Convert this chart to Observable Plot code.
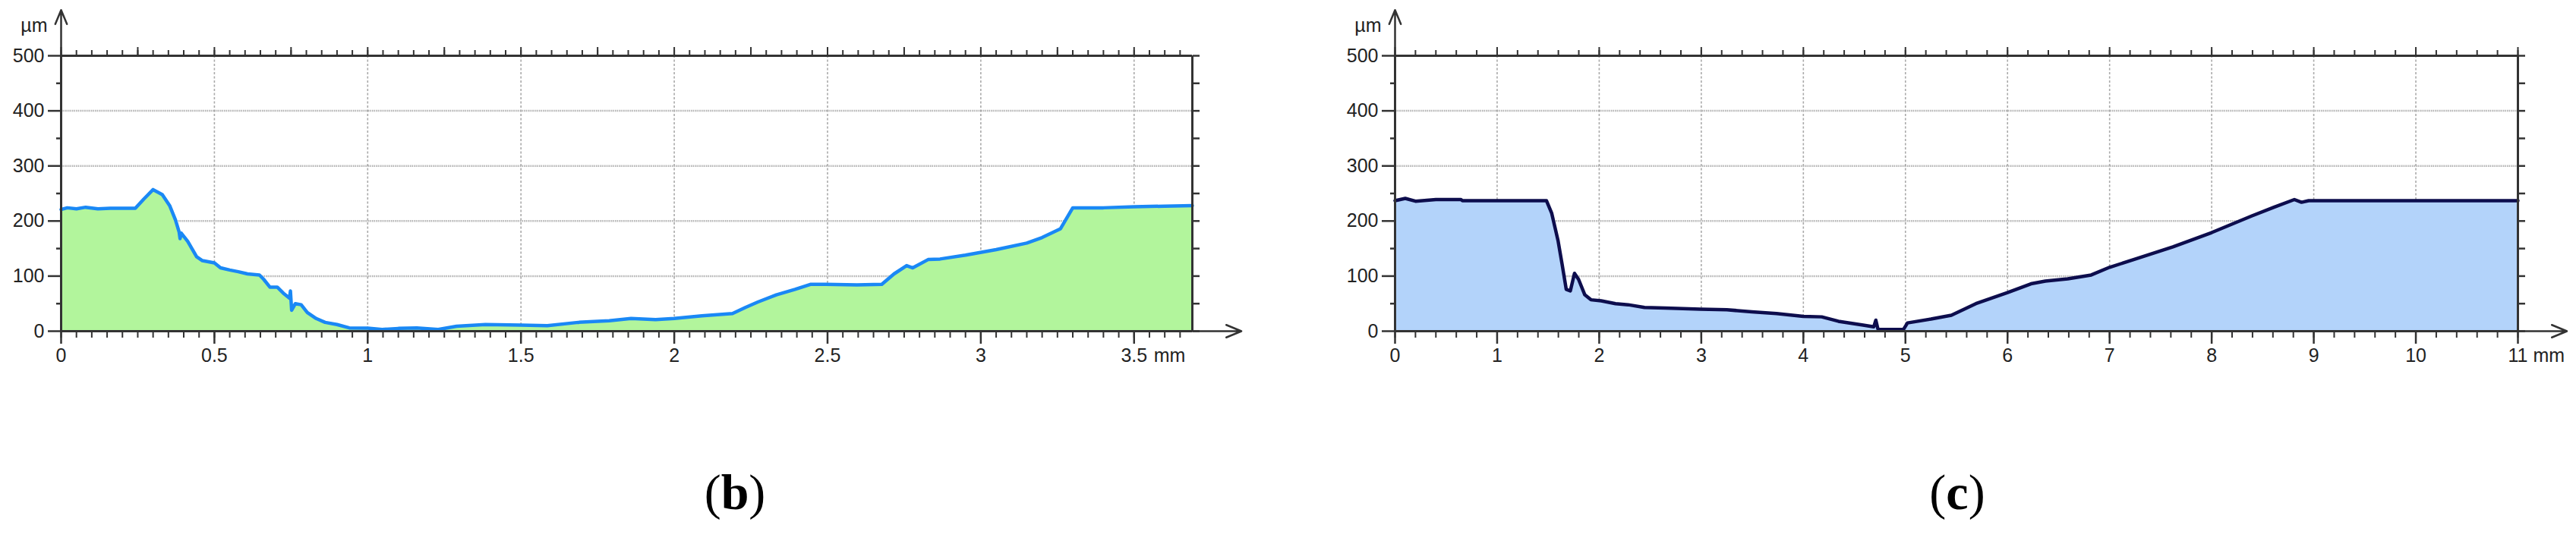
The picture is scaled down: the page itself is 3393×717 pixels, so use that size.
<!DOCTYPE html>
<html>
<head>
<meta charset="utf-8">
<script src="https://cdn.jsdelivr.net/npm/d3@7"></script>
<script src="https://cdn.jsdelivr.net/npm/@observablehq/plot@0.6"></script>
<style>
  html, body { margin: 0; padding: 0; background: #ffffff; }
  #wrap { position: relative; width: 3393px; height: 717px; background: #ffffff; overflow: hidden; }
  .panel { position: absolute; top: 0; }
  .cap { position: absolute; top: 616px; width: 200px; margin-left: -100px; text-align: center;
         font-family: "Liberation Serif", "Times New Roman", serif; font-size: 66px; line-height: 1; color: #000; }
</style>
</head>
<body>
<div id="wrap">
  <div id="pb" class="panel" style="left:0px"></div>
  <div id="pc" class="panel" style="left:1757px"></div>
  <div class="cap" style="left:968px">(<b>b</b>)</div>
  <div class="cap" style="left:2578px">(<b>c</b>)</div>
</div>
<script>
// ---------- Panel (b) profile: x in mm, height in µm ----------
const bX = [0, 0.02, 0.05, 0.08, 0.12, 0.16, 0.2, 0.242, 0.27, 0.30, 0.33, 0.354, 0.373, 0.385, 0.388, 0.392, 0.413, 0.442, 0.461, 0.5, 0.52, 0.55, 0.578, 0.608, 0.647, 0.661, 0.681, 0.705, 0.725, 0.745, 0.748, 0.752, 0.764, 0.783, 0.803, 0.832, 0.861, 0.9, 0.94, 1.0, 1.047, 1.1, 1.16, 1.23, 1.29, 1.384, 1.5, 1.586, 1.687, 1.788, 1.859, 1.939, 2.0, 2.09, 2.19, 2.232, 2.273, 2.333, 2.394, 2.444, 2.495, 2.596, 2.677, 2.717, 2.758, 2.778, 2.828, 2.867, 2.95, 3.05, 3.15, 3.2, 3.26, 3.3, 3.4, 3.5, 3.6, 3.69];
const bY = [221, 224, 222, 225, 222, 223, 223, 223, 240, 257, 248, 228, 202, 180, 168, 178, 163, 135, 128, 124, 115, 111, 108, 104, 102, 94, 80, 80, 69, 60, 73, 38, 50, 48, 34, 23, 16, 12, 6, 5.5, 3, 5, 6, 3, 9, 12, 11, 10, 16, 19, 23, 21, 23, 28, 32, 43, 53, 66, 76, 85, 85, 84, 85, 104, 119, 115, 130, 131, 138, 148, 160, 170, 186, 224, 224, 226, 227, 228];

// ---------- Panel (c) profile ----------
const cX = [0, 0.1, 0.2, 0.4, 0.646, 0.66, 1.0, 1.483, 1.535, 1.596, 1.636, 1.677, 1.717, 1.758, 1.798, 1.859, 1.919, 2.02, 2.16, 2.283, 2.444, 2.646, 2.99, 3.25, 3.495, 3.737, 4.0, 4.18, 4.343, 4.586, 4.69, 4.71, 4.73, 4.75, 4.98, 5.02, 5.25, 5.45, 5.69, 6.0, 6.23, 6.37, 6.59, 6.82, 7.0, 7.27, 7.62, 8.0, 8.39, 8.61, 8.81, 8.88, 8.95, 10, 10.95, 11];
const cY = [237, 241, 236, 239, 239, 237, 237, 237, 214, 165, 122, 76, 73, 105, 94, 66, 57, 55, 50, 48, 43, 42, 40, 39, 35, 32, 27, 26, 18, 11, 8, 20, 4, 3, 3, 15, 22, 29, 50, 70, 86, 91, 95, 102, 116, 132, 153, 179, 209, 225, 239, 234, 237, 237, 237, 237];

// ---------- Axis tick definitions ----------
const yMajor = [0, 100, 200, 300, 400, 500];
const yMinor = [50, 150, 250, 350, 450];
const yGrid = [100, 200, 300, 400];
const yRight = [0, 50, 100, 150, 200, 250, 300, 350, 400, 450, 500];

const bXMax = 3.69;
const bLabels = [0, 0.5, 1, 1.5, 2, 2.5, 3, 3.5];
const bMid = [0.25, 0.75, 1.25, 1.75, 2.25, 2.75, 3.25];
const bFine = d3.range(0, 74).map(i => +(i * 0.05).toFixed(2)).filter(v => v <= bXMax);

const cXMax = 11;
const cLabels = [0, 1, 2, 3, 4, 5, 6, 7, 8, 9, 10, 11];
const cFine = d3.range(0, 56).map(i => +(i * 0.2).toFixed(1)).filter(v => v <= cXMax);

const yTop = 500, yArrow = 583;
const unit = "µm", xUnit = "mm";

function panel({xs, ys, xMax, labels, mid, fine, arrowLen, fill, stroke, width, marginRight, mmDx}) {
  const data = xs.map((x, i) => ({x, y: ys[i]}));
  const dark = "#333";
  const fmt = d => String(d);
  const blank = () => "";
  return Plot.plot({
    width, height: 506,
    marginLeft: 80, marginRight, marginTop: 73, marginBottom: 70,
    x: {domain: [0, xMax]},
    y: {domain: [0, 500]},
    style: {fontFamily: "'Liberation Sans', Arial, sans-serif", fontSize: "25px", color: "#222", background: "transparent", overflow: "visible"},
    marks: [
      Plot.gridY(yGrid, {stroke: "#b4b4b4", strokeOpacity: 1, strokeWidth: 2.5, strokeDasharray: "1.5,1"}),
      Plot.gridX(labels.filter(v => v > 0 && v < xMax), {stroke: "#aaaaaa", strokeOpacity: 1, strokeWidth: 1.6, strokeDasharray: "3,2.5"}),
      Plot.areaY(data, {x: "x", y: "y", fill, curve: "linear"}),
      Plot.lineY(data, {x: "x", y: "y", stroke, strokeWidth: 4.5, strokeLinejoin: "round"}),
      // frame and axes lines
      Plot.ruleY([yTop], {stroke: dark, strokeWidth: 3.2, x1: 0, x2: xMax}),
      Plot.ruleX([xMax], {stroke: dark, strokeWidth: 3, y1: 0, y2: yTop}),
      Plot.ruleY([0], {stroke: dark, strokeWidth: 3, x1: 0, x2: xMax}),
      Plot.ruleX([0], {stroke: dark, strokeWidth: 3, y1: 0, y2: yTop}),
      // left y axis
      Plot.axisY({ticks: yMajor, tickSize: 17, tickPadding: 5, tickFormat: fmt, label: null, stroke: dark, strokeWidth: 2.5, fill: "#222"}),
      Plot.axisY({ticks: yMinor, tickSize: 6, tickFormat: blank, label: null, stroke: dark, strokeWidth: 2.5}),
      // right ticks
      Plot.axisY({anchor: "right", ticks: yRight, tickSize: 9, tickFormat: blank, label: null, stroke: dark, strokeWidth: 2.5}),
      // top ticks
      Plot.axisX({anchor: "top", ticks: fine, tickSize: 8, tickFormat: blank, label: null, stroke: dark, strokeWidth: 2}),
      Plot.axisX({anchor: "top", ticks: mid.concat(labels), tickSize: 12, tickFormat: blank, label: null, stroke: dark, strokeWidth: 2}),
      // bottom ticks
      Plot.axisX({anchor: "bottom", ticks: fine, tickSize: 9, tickFormat: blank, label: null, stroke: dark, strokeWidth: 2}),
      Plot.axisX({anchor: "bottom", ticks: labels, tickSize: 17, tickPadding: 6, tickFormat: fmt, label: null, stroke: dark, strokeWidth: 2.5, fill: "#222"}),
      // axis arrows
      Plot.arrow([{x1: 0, y1: yTop, x2: 0, y2: yArrow}], {x1: "x1", y1: "y1", x2: "x2", y2: "y2", stroke: dark, strokeWidth: 2.5, headLength: 22, headAngle: 45}),
      Plot.arrow([{x1: xMax, y1: 0, x2: xMax + arrowLen, y2: 0}], {x1: "x1", y1: "y1", x2: "x2", y2: "y2", stroke: dark, strokeWidth: 2.5, headLength: 22, headAngle: 45}),
      // unit labels
      Plot.text([unit], {x: 0, y: yTop, dx: -18, dy: -40, text: d => d, textAnchor: "end", fontSize: 25, fill: "#222"}),
      Plot.text([xUnit], {x: labels[labels.length - 1], y: 0, dx: mmDx, dy: 32, text: d => d, textAnchor: "start", fontSize: 25, fill: "#222"})
    ]
  });
}

document.getElementById("pb").append(panel({
  xs: bX, ys: bY, xMax: bXMax, labels: bLabels, mid: bMid, fine: bFine, arrowLen: 0.16,
  fill: "#b2f59c", stroke: "#1a88f5", width: 1660, marginRight: 90, mmDx: 26
}));
document.getElementById("pc").append(panel({
  xs: cX, ys: cY, xMax: cXMax, labels: cLabels, mid: [], fine: cFine, arrowLen: 0.48,
  fill: "#b3d3fa", stroke: "#0d0d4d", width: 1636, marginRight: 77, mmDx: 20
}));
</script>
</body>
</html>
